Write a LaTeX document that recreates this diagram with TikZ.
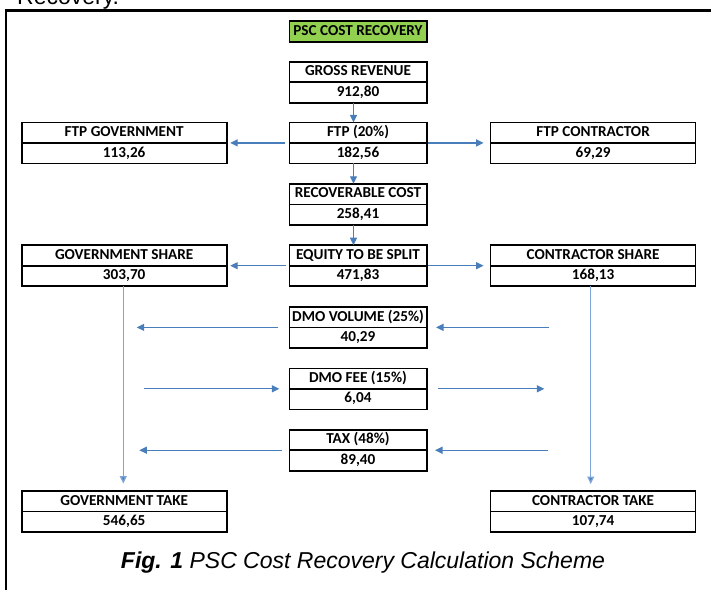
\documentclass[tikz,border=0pt]{standalone}
\usepackage{fontspec}
\setmainfont{Liberation Sans}
\newfontfamily\boxfont{Carlito}
\usetikzlibrary{arrows.meta}
\definecolor{arrowblue}{HTML}{4A7EBB}
\definecolor{lineblue}{HTML}{7FA6D8}
\definecolor{titlegreen}{HTML}{92D050}
\begin{document}
\begin{tikzpicture}[x=1pt,y=-1pt,
  cell/.style={draw=black, line width=1.6pt, minimum height=20.5pt, inner sep=0pt, outer sep=0pt,
    font=\boxfont\bfseries\fontsize{15.2}{17}\selectfont, text height=10.3pt, text depth=2.6pt},
  midcell/.style={cell, minimum width=137.4pt},
  sidecell/.style={cell, minimum width=205pt},
  arr/.style={draw=arrowblue, line width=1.2pt, -{Triangle[length=7.5pt,width=7pt]}},
  arrv/.style={draw=lineblue, line width=1.3pt, -{Triangle[length=7.5pt,width=7pt,fill=arrowblue]}}
]
\useasboundingbox (0,0) rectangle (711,589);

% page context
\node[anchor=base west, inner sep=0pt, font=\fontsize{23}{27}\selectfont] (prev) at (17,4.5) {Recovery.};
\draw[line width=2.2pt] (6.3,600) -- (6.3,10.5) -- (720,10.5);

% title
\node[cell, fill=titlegreen, minimum width=137.4pt, minimum height=21pt] (title) at (358,31.2) {PSC COST RECOVERY};

% centre column
\node[midcell] (gross-t) at (358,71.95) {GROSS REVENUE};
\node[midcell, anchor=north] (gross-b) at (gross-t.south) {912,80};
\node[midcell] (ftp-t) at (358,132.65) {FTP (20\%)};
\node[midcell, anchor=north] (ftp-b) at (ftp-t.south) {182,56};
\node[midcell] (rec-t) at (358,194.05) {RECOVERABLE COST};
\node[midcell, anchor=north] (rec-b) at (rec-t.south) {258,41};
\node[midcell] (eq-t) at (358,255.45) {EQUITY TO BE SPLIT};
\node[midcell, anchor=north] (eq-b) at (eq-t.south) {471,83};
\node[midcell] (dmov-t) at (358,317.15) {DMO VOLUME (25\%)};
\node[midcell, anchor=north] (dmov-b) at (dmov-t.south) {40,29};
\node[midcell] (dmof-t) at (358,378.55) {DMO FEE (15\%)};
\node[midcell, anchor=north] (dmof-b) at (dmof-t.south) {6,04};
\node[midcell] (tax-t) at (358,439.95) {TAX (48\%)};
\node[midcell, anchor=north] (tax-b) at (tax-t.south) {89,40};

% side columns
\node[sidecell] (ftpg-t) at (124.2,132.65) {FTP GOVERNMENT};
\node[sidecell, anchor=north] (ftpg-b) at (ftpg-t.south) {113,26};
\node[sidecell] (ftpc-t) at (593.1,132.65) {FTP CONTRACTOR};
\node[sidecell, anchor=north] (ftpc-b) at (ftpc-t.south) {69,29};
\node[sidecell] (gs-t) at (124.2,255.45) {GOVERNMENT SHARE};
\node[sidecell, anchor=north] (gs-b) at (gs-t.south) {303,70};
\node[sidecell] (cs-t) at (593.1,255.45) {CONTRACTOR SHARE};
\node[sidecell, anchor=north] (cs-b) at (cs-t.south) {168,13};
\node[sidecell] (gt-t) at (124.2,501.25) {GOVERNMENT TAKE};
\node[sidecell, anchor=north] (gt-b) at (gt-t.south) {546,65};
\node[sidecell] (ct-t) at (593.1,501.25) {CONTRACTOR TAKE};
\node[sidecell, anchor=north] (ct-b) at (ct-t.south) {107,74};

% vertical flow
\draw[arr] ([xshift=-4.5pt]gross-b.south) -- ([xshift=-4.5pt]ftp-t.north);
\draw[arr] ([xshift=-4.5pt]ftp-b.south) -- ([xshift=-4.5pt]rec-t.north);
\draw[arr] ([xshift=-4.5pt]rec-b.south) -- ([xshift=-4.5pt]eq-t.north);

% splits
\draw[arr] ([xshift=-4pt]ftp-t.south west) -- ([xshift=3.5pt]ftpg-t.south east);
\draw[arr] ([xshift=1.5pt]ftp-t.south east) -- ([xshift=-7pt]ftpc-t.south west);
\draw[arr] ([xshift=-3.5pt]eq-t.south west) -- ([xshift=3.5pt]gs-t.south east);
\draw[arr] ([xshift=1.5pt]eq-t.south east) -- ([xshift=-7pt]cs-t.south west);

% long verticals
\draw[arrv] ([xshift=-0.9pt]gs-b.south) -- ([xshift=-0.9pt,yshift=7.5pt]gt-t.north);
\draw[arrv] ([xshift=-2.4pt]cs-b.south) -- ([xshift=-2.4pt,yshift=7pt]ct-t.north);

% DMO / tax arrows
\coordinate (dvl) at (136.7,327.4);
\coordinate (dvr) at (549.3,327.4);
\draw[arr] ([xshift=-11pt]dmov-t.south west) -- (dvl);
\draw[arr] (dvr) -- ([xshift=9.3pt]dmov-t.south east);
\coordinate (dfl) at (144,388.8);
\coordinate (dfr) at (544.3,388.8);
\draw[arr] (dfl) -- ([xshift=-10pt]dmof-t.south west);
\draw[arr] ([xshift=11.6pt]dmof-t.south east) -- (dfr);
\coordinate (txl) at (139.3,450.2);
\coordinate (txr) at (548.3,450.2);
\draw[arr] ([xshift=-7.6pt]tax-t.south west) -- (txl);
\draw[arr] (txr) -- ([xshift=8.3pt]tax-t.south east);

% caption
\node[anchor=base, inner sep=0pt, font=\fontsize{23}{27}\selectfont\itshape] (cap) at (363,568) {\textbf{Fig. 1} PSC Cost Recovery Calculation Scheme};
\end{tikzpicture}
\end{document}
